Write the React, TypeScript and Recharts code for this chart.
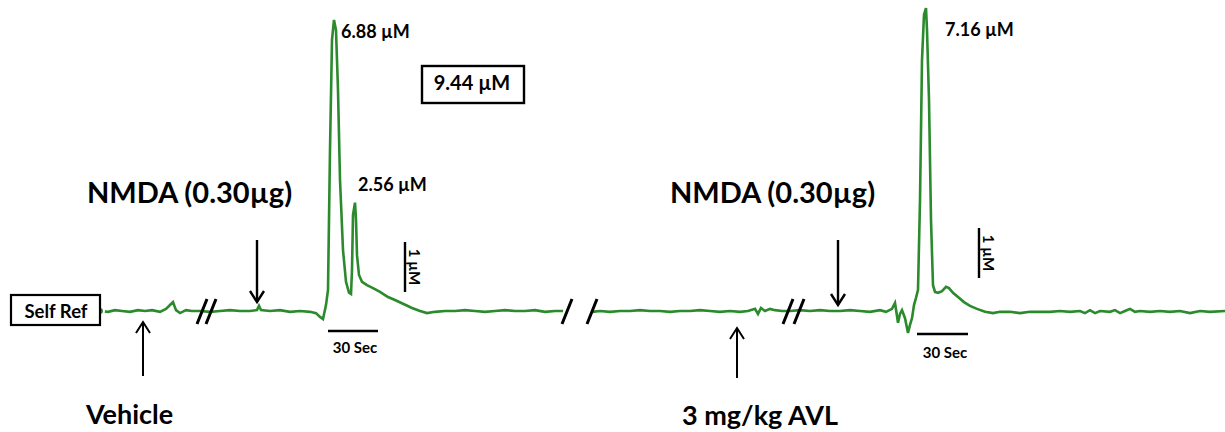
import { Line, LineChart, XAxis, YAxis } from "recharts";

// display time (s) and signal above baseline (µM) – first trace, before the break
const time1 = [
  60, 64.8, 69, 73.2, 78, 82.8, 87, 91.2, 96, 99.6, 102, 103.8, 105.6, 108, 111.6, 115.2,
  120, 126, 132, 138, 144, 150, 154.2, 155.4, 156.6, 162, 168, 174, 180, 186, 189.6, 192,
  193.8, 195.6, 196.8, 198, 199.2, 200.4, 201.6, 202.8, 204, 205.8, 207.6, 209.4, 210.6,
  211.2, 211.8, 213, 213.6, 214.2, 215.4, 217.2, 220.2, 223.8, 228, 232.8, 237, 241.8,
  247.2, 252, 256.2, 261, 267, 273, 279, 285, 291, 297, 303, 309, 315, 321, 327, 333, 337.8,
];
const signal1 = [
  0, -0.02, 0.02, 0, -0.02, 0.02, 0, 0.02, -0.02, 0.05, 0.14, 0.21, 0.02, -0.05, 0.02, 0,
  0, -0.02, 0, 0.02, 0, 0, 0.02, 0.12, 0.02, 0, 0.02, -0.02, 0, -0.02, -0.05, -0.14,
  -0.19, 0.14, 0.5, 3.81, 6.41, 6.88, 6.64, 5.22, 3.1, 1.44, 0.69, 0.43, 0.4,
  0.97, 2.27, 2.56, 2.15, 1.32, 0.85, 0.69, 0.61, 0.54, 0.45, 0.33, 0.26, 0.17,
  0.07, 0, -0.05, -0.02, 0, 0, 0.02, 0, -0.02, 0, 0.02, 0, 0, 0.02, -0.02, 0, 0,
];

// second trace, after the break (3 mg/kg AVL then NMDA)
const time2 = [
  355.2, 360, 366, 372, 378, 384, 390, 396, 402, 408, 414, 420, 426, 432, 438, 444, 448.8,
  453, 454.8, 456.6, 459, 462, 465, 469.2, 474, 480, 486, 492, 498, 504, 510, 516, 522, 528,
  531.6, 535.2, 537, 538.2, 538.8, 540, 541.2, 543, 544.8, 546, 547.2, 548.4, 549.6, 550.8,
  552, 553.2, 554.4, 555.6, 556.2, 557.4, 558.6, 559.8, 561, 562.8, 565.2, 567.6, 569.4,
  571.8, 574.8, 578.4, 582, 586.2, 591, 595.8, 600, 606, 612, 618, 624, 630, 636, 642, 648,
  651, 654, 657, 660, 666, 669, 672, 675, 678, 681, 684, 690, 696, 702, 708, 714, 720, 726, 735,
];
const signal2 = [
  -0.02, 0, -0.02, 0, 0, 0.02, 0, 0, -0.02, 0, 0, 0.02, 0, -0.02, 0, -0.02, 0,
  0.05, -0.07, 0.07, 0, 0.05, 0.02, 0, 0, 0.02, 0, 0.02, 0, 0, 0.02, 0, -0.02, 0.02,
  -0.02, 0.05, 0.19, -0.12, -0.28, -0.07, 0.02, -0.17, -0.52, -0.33, -0.17, 0.14, 0.31, 0.5,
  2.62, 5.93, 7.0, 7.16, 6.64, 4.99, 2.15, 0.61, 0.45, 0.43, 0.47, 0.57, 0.54,
  0.43, 0.33, 0.21, 0.12, 0.05, -0.02, -0.05, -0.02, -0.02, -0.05, -0.02, -0.02, -0.02, 0, -0.02, 0,
  -0.05, 0.02, -0.05, 0, -0.02, 0.02, -0.05, 0, 0.05, -0.02, 0, -0.02, 0, -0.02, 0, -0.05, 0, -0.02, 0,
];

const data = [
  ...time1.map((t, i) => ({ t, v: signal1[i] })),
  { t: 346, v: null },
  ...time2.map((t, i) => ({ t, v: signal2[i] })),
];

const font = "Lato, 'Open Sans', sans-serif";
const green = "#2b8a2b";

const Slash = ({ x }: { x: number }) => (
  <line x1={x} y1={324} x2={x + 10} y2={299} stroke="#000" strokeWidth={3} />
);

const UpArrow = ({ x, y1, y2 }: { x: number; y1: number; y2: number }) => (
  <g stroke="#000" strokeWidth={2} fill="none">
    <line x1={x} y1={y1} x2={x} y2={y2} />
    <polyline points={`${x - 7},${y2 + 11} ${x},${y2} ${x + 7},${y2 + 11}`} />
  </g>
);

const DownArrow = ({ x, y1, y2 }: { x: number; y1: number; y2: number }) => (
  <g stroke="#000" strokeWidth={2.4} fill="none">
    <line x1={x} y1={y1} x2={x} y2={y2} />
    <polyline points={`${x - 7},${y2 - 11} ${x},${y2} ${x + 7},${y2 - 11}`} />
  </g>
);

export default function App() {
  return (
    <div style={{ position: "absolute", left: 0, top: 0, width: 1225, height: 432, background: "#fff" }}>
      <LineChart width={1225} height={432} data={data} margin={{ top: 0, right: 0, bottom: 0, left: 0 }}>
        <XAxis dataKey="t" type="number" domain={[0, 735]} hide allowDataOverflow />
        <YAxis type="number" domain={[-2.86, 7.35]} hide allowDataOverflow />
        <Line
          dataKey="v"
          type="linear"
          stroke={green}
          strokeWidth={2.6}
          dot={false}
          connectNulls={false}
          isAnimationActive={false}
        />
      </LineChart>
      <svg
        width={1225}
        height={432}
        style={{ position: "absolute", left: 0, top: 0, pointerEvents: "none" }}
        fontFamily={font}
        fontWeight="bold"
      >
        {/* self reference box */}
        <rect x={11} y={295} width={89} height={30} fill="#fff" stroke="#000" strokeWidth={2.2} />
        <text x={56} y={318} fontSize={18.5} textAnchor="middle">Self Ref</text>

        {/* breaks */}
        <Slash x={197} />
        <Slash x={206} />
        <Slash x={562} />
        <Slash x={587} />
        <Slash x={783} />
        <Slash x={794} />

        {/* arrows */}
        <UpArrow x={143} y1={376} y2={322} />
        <DownArrow x={257} y1={240} y2={302} />
        <UpArrow x={737} y1={378} y2={328} />
        <DownArrow x={838} y1={240} y2={305} />

        {/* labels */}
        <text x={87} y={203} fontSize={29}>NMDA (0.30µg)</text>
        <text x={670} y={203} fontSize={29}>NMDA (0.30µg)</text>
        <text x={86} y={424} fontSize={27}>Vehicle</text>
        <text x={682} y={425} fontSize={27}>3 mg/kg AVL</text>

        <text x={341} y={38} fontSize={18}>6.88 µM</text>
        <text x={358} y={191} fontSize={18}>2.56 µM</text>
        <text x={945} y={36} fontSize={18}>7.16 µM</text>

        <rect x={422} y={66} width={102} height={37} fill="#fff" stroke="#000" strokeWidth={2.4} />
        <text x={472} y={90} fontSize={20} textAnchor="middle">9.44 µM</text>

        {/* scale bars */}
        <line x1={405} y1={242} x2={405} y2={292} stroke="#000" strokeWidth={2.4} />
        <text x={409} y={267} fontSize={15} textAnchor="middle" transform="rotate(90 409 267)">1 µM</text>
        <line x1={979} y1={228} x2={979} y2={278} stroke="#000" strokeWidth={2.4} />
        <text x={983} y={253} fontSize={15} textAnchor="middle" transform="rotate(90 983 253)">1 µM</text>

        <line x1={328} y1={331} x2={378} y2={331} stroke="#000" strokeWidth={2.4} />
        <text x={355} y={353} fontSize={15} textAnchor="middle">30 Sec</text>
        <line x1={917} y1={334} x2={968} y2={334} stroke="#000" strokeWidth={2.4} />
        <text x={945} y={358} fontSize={15} textAnchor="middle">30 Sec</text>
      </svg>
    </div>
  );
}
